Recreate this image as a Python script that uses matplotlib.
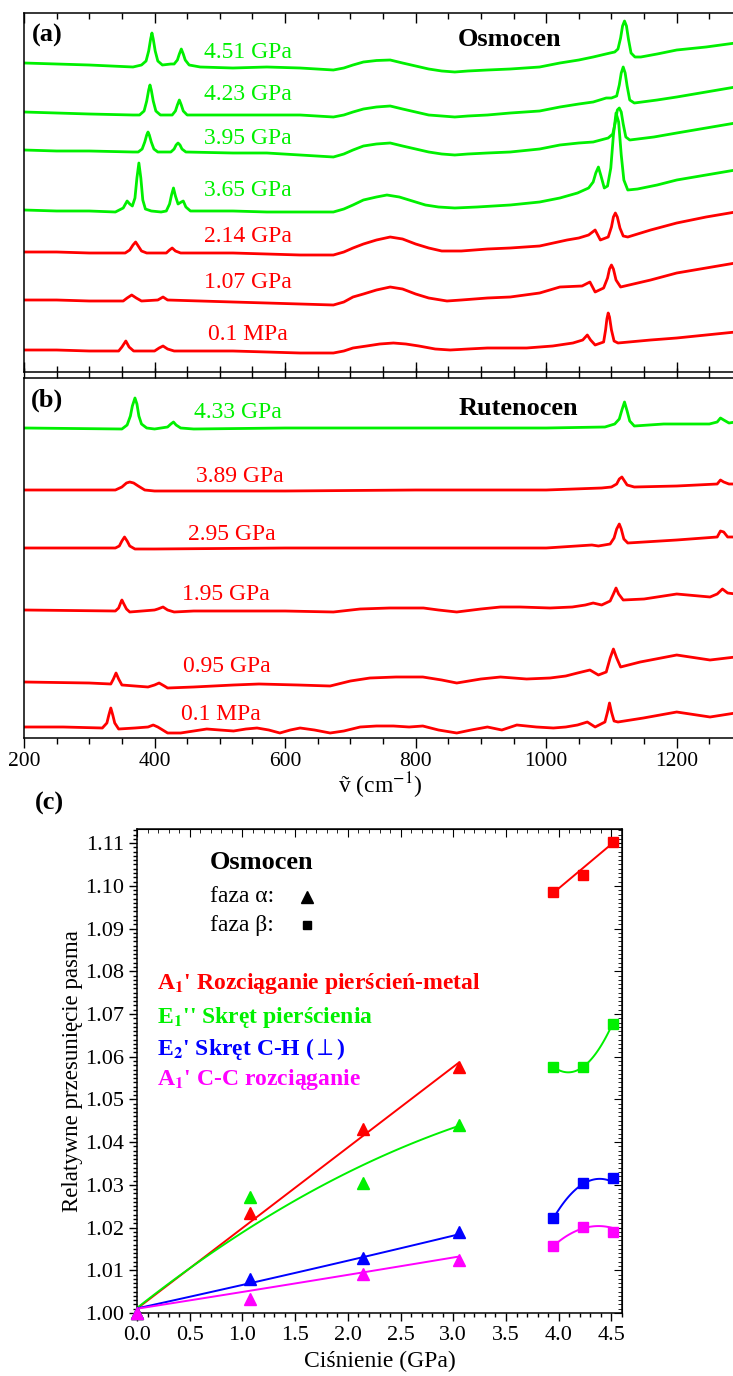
"""
Raman spectra of osmocene / ruthenocene under pressure and relative band shifts.
"""

import matplotlib.pyplot as plt
import numpy as np
from matplotlib.ticker import FormatStrFormatter, MultipleLocator

plt.rcParams['font.family'] = ['Liberation Serif', 'DejaVu Serif', 'DejaVu Sans']
plt.rcParams['mathtext.fontset'] = 'stix'

W_PX, H_PX = 733, 1376
RED, GREEN, BLUE, MAGENTA = '#ff0000', '#00f000', '#0000ff', '#ff00ff'

# ==============================================================
# Data: (a) osmocene spectra, (wavenumber, intensity) pairs
# ==============================================================

OS_LABELS = ['4.51 GPa', '4.23 GPa', '3.95 GPa', '3.65 GPa', '2.14 GPa', '1.07 GPa', '0.1 MPa']
OS_COLORS = [GREEN, GREEN, GREEN, GREEN, RED, RED, RED]
OS_OFFSETS = [309, 260, 222, 162, 120, 72, 22]

OS_451 = [(200, 0), (250, -1), (300, -2), (367, -4), (380, -2), (387, 2), (391, 12), (394, 24), (396, 30),
          (398, 24), (401, 12), (405, 2), (412, -2), (425, -1), (430, -1), (435, 3), (438, 9), (441, 14),
          (444, 9), (447, 3), (453, -2), (470, -4), (520, -5), (572, -4), (623, -5), (674, -7), (690, -5),
          (704, -2), (720, 1), (740, 2.5), (761, 3), (780, 0), (800, -3), (820, -6), (840, -8), (860, -9),
          (880, -8), (910, -7), (945, -6), (990, -4), (1021, 0), (1050, 3), (1072, 6), (1098, 10),
          (1105, 11), (1110, 14), (1114, 25), (1117, 37), (1120, 42), (1123, 37), (1126, 24), (1130, 10),
          (1136, 6), (1145, 6), (1170, 9), (1200, 13), (1245, 16), (1290, 20)]
OS_423 = [(200, 0), (250, -1), (300, -2), (367, -3), (377, -3), (384, 1), (388, 11), (391, 22), (393, 27),
          (395, 22), (398, 11), (402, 1), (409, -3), (427, -3), (432, 1), (435, 7), (438, 12), (441, 7),
          (444, 1), (450, -3), (520, -3), (572, -3), (623, -3), (674, -5), (690, -3), (704, 0), (720, 3),
          (740, 5), (761, 6), (780, 3), (800, 0), (820, -3), (840, -4), (860, -5), (880, -4), (910, -3),
          (945, -1), (990, 1), (1021, 5), (1050, 8), (1072, 10), (1092, 14), (1100, 14), (1108, 16),
          (1112, 27), (1115, 39), (1118, 45), (1121, 39), (1124, 26), (1128, 12), (1135, 9), (1170, 12),
          (1200, 15), (1245, 20), (1290, 25)]
OS_395 = [(200, 0), (250, -1), (300, -1), (367, -2), (375, -2), (381, 1), (385, 8), (388, 15), (390, 18),
          (392, 15), (395, 8), (399, 1), (405, -2), (425, -2), (430, 1), (433, 5), (436, 7), (439, 5),
          (442, 1), (448, -2), (520, -3), (572, -3), (623, -5), (674, -7), (690, -4), (704, 0), (720, 4),
          (740, 6), (761, 7), (780, 4), (800, 1), (820, -2), (840, -4), (860, -5), (880, -4), (910, -3),
          (945, -2), (990, 1), (1021, 5), (1050, 7), (1072, 8), (1095, 12), (1102, 16), (1106, 28),
          (1109, 40), (1112, 42), (1115, 38), (1118, 26), (1122, 13), (1128, 10), (1165, 13), (1200, 17),
          (1245, 22), (1290, 27)]
OS_365 = [(200, 0), (250, -1), (300, -1), (340, -2), (352, 2), (358, 9), (362, 6), (366, 4), (370, 12),
          (373, 32), (376, 47), (379, 32), (382, 10), (386, 1), (395, -1), (410, -2), (418, -1), (423, 6),
          (426, 15), (429, 22), (432, 14), (436, 6), (441, 8), (444, 9), (448, 3), (455, -1), (520, -1),
          (572, -2), (623, -2), (674, -2), (690, 1), (704, 5), (720, 10), (740, 13), (756, 15), (775, 13),
          (795, 9), (815, 5), (835, 3), (860, 2), (894, 3), (945, 5), (990, 8), (1021, 12), (1048, 17),
          (1065, 22), (1072, 28), (1076, 37), (1080, 43), (1084, 34), (1089, 22), (1094, 24), (1099, 42),
          (1103, 75), (1107, 97), (1111, 88), (1115, 55), (1119, 30), (1125, 20), (1140, 21), (1170, 25),
          (1200, 30), (1245, 35), (1290, 40)]
OS_214 = [(200, 0), (250, 0), (300, -1), (355, -1), (362, 2), (367, 7), (371, 10), (375, 6), (380, 1),
          (388, -1), (418, -1), (423, 2), (427, 4), (432, 1), (440, -1), (520, -1), (572, -2), (623, -3),
          (674, -3), (690, 0), (704, 4), (720, 8), (740, 12), (761, 15), (780, 13), (800, 8), (820, 4),
          (840, 1), (870, 1), (910, 3), (945, 4), (990, 6), (1032, 12), (1050, 14), (1065, 17), (1075, 22),
          (1083, 12), (1095, 15), (1100, 25), (1103, 35), (1106, 39), (1109, 35), (1113, 24), (1118, 16),
          (1125, 15), (1160, 22), (1200, 29), (1245, 35), (1290, 40)]
OS_107 = [(200, 0), (250, 0), (300, -1), (352, -1), (358, 2), (365, 5), (372, 2), (380, -1), (405, 0),
          (413, 3), (420, 0), (520, -2), (572, -3), (623, -4), (674, -5), (690, -2), (704, 3), (720, 6),
          (740, 10), (761, 13), (780, 11), (800, 6), (820, 2), (848, -1), (870, 0), (910, 2), (945, 3),
          (990, 7), (1021, 13), (1055, 14), (1067, 18), (1075, 8), (1088, 12), (1094, 22), (1097, 31),
          (1100, 35), (1103, 31), (1107, 20), (1114, 13), (1160, 20), (1200, 27), (1245, 32), (1290, 37)]
OS_01 = [(200, 0), (250, 0), (300, -1), (345, -1), (350, 3), (356, 9), (361, 3), (368, -1), (400, -1),
         (407, 2), (413, 4), (420, 1), (430, -1), (520, -1), (572, -2), (623, -3), (674, -3), (690, -1),
         (704, 2), (725, 4), (745, 6), (766, 7), (785, 6), (805, 4), (830, 1), (853, 0), (880, 1),
         (910, 2), (970, 2), (1010, 4), (1041, 7), (1056, 10), (1063, 15), (1068, 10), (1075, 5),
         (1088, 8), (1091, 20), (1093, 31), (1095, 37), (1097, 33), (1100, 20), (1104, 9), (1110, 7),
         (1160, 10), (1200, 12), (1245, 15), (1290, 18)]
OS_SPECTRA = [OS_451, OS_423, OS_395, OS_365, OS_214, OS_107, OS_01]

# ==============================================================
# Data: (b) ruthenocene spectra
# ==============================================================

RU_LABELS = ['4.33 GPa', '3.89 GPa', '2.95 GPa', '1.95 GPa', '0.95 GPa', '0.1 MPa']
RU_COLORS = [GREEN, RED, RED, RED, RED, RED]
RU_OFFSETS = [310, 248, 190, 128, 56, 11]

RU_433 = [(200, 0), (350, -1), (358, 3), (363, 12), (366, 22), (370, 30), (373, 24), (376, 12), (380, 4),
          (388, 0), (400, -1), (420, 1), (425, 4), (429, 6), (433, 3), (440, 0), (460, -1), (600, 0),
          (800, 0), (1000, 0), (1090, 1), (1105, 4), (1112, 9), (1116, 18), (1120, 26), (1124, 17),
          (1128, 7), (1135, 2), (1180, 4), (1250, 4), (1262, 6), (1267, 10), (1272, 8), (1280, 5), (1290, 6)]
RU_389 = [(200, 0), (340, 0), (350, 3), (357, 7), (362, 8), (368, 7), (375, 4), (385, 0), (400, -1),
          (600, -1), (800, 0), (1000, 0), (1085, 2), (1100, 3), (1108, 6), (1112, 11), (1116, 13),
          (1120, 9), (1124, 5), (1135, 3), (1200, 4), (1262, 6), (1267, 10), (1272, 8), (1280, 6), (1290, 6)]
RU_295 = [(200, 0), (340, 0), (346, 2), (350, 7), (354, 11), (358, 7), (362, 2), (370, -1), (400, -1),
          (600, 0), (800, 0), (1000, 0), (1070, 3), (1080, 2), (1098, 4), (1104, 10), (1108, 19),
          (1112, 24), (1115, 19), (1119, 9), (1125, 5), (1200, 8), (1262, 11), (1267, 17), (1272, 16),
          (1278, 11), (1290, 11)]
RU_195 = [(200, 0), (340, -1), (345, 2), (348, 7), (350, 10), (353, 6), (357, 1), (362, -2), (400, 0),
          (405, 1), (413, 3), (420, 0), (430, -2), (460, -1), (521, -1), (600, -1), (674, -2), (715, 1),
          (760, 2), (812, 2), (835, 0), (863, -2), (900, 1), (930, 3), (960, 3), (1006, 2), (1040, 3),
          (1060, 5), (1072, 7), (1085, 5), (1098, 9), (1103, 16), (1107, 22), (1111, 16), (1118, 10),
          (1150, 11), (1200, 16), (1251, 13), (1262, 16), (1270, 21), (1278, 17), (1290, 16)]
RU_095 = [(200, 0), (300, -1), (333, -2), (337, 3), (341, 9), (345, 3), (350, -3), (390, -5), (400, -3),
          (407, -1), (415, -4), (420, -6), (460, -5), (521, -3), (560, -2), (620, -3), (669, -4), (700, 1),
          (730, 4), (770, 5), (811, 5), (840, 2), (863, -1), (900, 3), (930, 5), (970, 3), (1006, 4),
          (1030, 6), (1048, 9), (1067, 12), (1080, 7), (1092, 10), (1098, 24), (1103, 33), (1108, 24),
          (1114, 15), (1144, 20), (1200, 27), (1251, 22), (1290, 25)]
RU_01 = [(200, 0), (260, 0), (320, -1), (327, 4), (330, 12), (333, 19), (336, 12), (339, 4), (345, -2),
         (370, -1), (390, 0), (398, 2), (405, 0), (420, -6), (440, -6), (460, -4), (480, -2), (500, -3),
         (521, -4), (540, -2), (557, -1), (575, -3), (592, -6), (608, -3), (623, -1), (645, -3), (669, -6),
         (690, -4), (715, 0), (740, 1), (766, 1), (790, 0), (811, 1), (835, -3), (863, -6), (885, -3),
         (910, 0), (932, -3), (955, 2), (985, 0), (1011, -1), (1030, 0), (1048, 2), (1063, 5), (1075, 0),
         (1090, 5), (1094, 15), (1097, 24), (1100, 15), (1104, 6), (1110, 5), (1149, 9), (1200, 15),
         (1251, 10), (1290, 14)]
RU_SPECTRA = [RU_433, RU_389, RU_295, RU_195, RU_095, RU_01]

# ==============================================================
# Data: (c) relative band shifts of osmocene
# ==============================================================

P_ALPHA = [0.0, 1.07, 2.14, 3.05]
P_BETA = [3.95, 4.23, 4.51]

BAND_NAMES = [r"A$_\mathbf{1}$' Rozciąganie pierścień-metal", r"E$_\mathbf{1}$'' Skręt pierścienia",
              r"E$_\mathbf{2}$' Skręt C-H ($\perp$)", r"A$_\mathbf{1}$' C-C rozciąganie"]
BAND_COLORS = [RED, GREEN, BLUE, MAGENTA]

SHIFT_ALPHA = [[1.000, 1.0234, 1.0431, 1.0577],
               [1.000, 1.0272, 1.0304, 1.0440],
               [1.000, 1.0080, 1.0129, 1.0190],
               [1.000, 1.0033, 1.0091, 1.0124]]
SHIFT_BETA = [[1.0986, 1.1026, 1.1103],
              [1.0576, 1.0576, 1.0677],
              [1.0222, 1.0304, 1.0316],
              [1.0157, 1.0202, 1.0190]]

# fitted curves as read at the measured pressures
FIT_ALPHA = [[1.001, 1.0212, 1.0415, 1.0585],
             [1.001, 1.0205, 1.0340, 1.0440],
             [1.001, 1.0072, 1.0128, 1.0185],
             [1.001, 1.0052, 1.0095, 1.0132]]
FIT_BETA = [[1.0986, 1.1037, 1.1102],
            [1.0576, 1.0576, 1.0677],
            [1.0222, 1.0302, 1.0307],
            [1.0157, 1.0198, 1.0199]]
FIT_DEG_ALPHA = [1, 2, 2, 2]
FIT_DEG_BETA = [1, 2, 2, 2]


def fig_xy(px, py):
    """Pixel position in the 733x1376 canvas -> figure fraction."""
    return px / W_PX, 1 - py / H_PX


def axes_rect(left, top, right, bottom):
    x0, y0 = fig_xy(left, bottom)
    x1, y1 = fig_xy(right, top)
    return [x0, y0, x1 - x0, y1 - y0]


def style_spectra_axes(ax, ymax, bottom_labels):
    ax.set_xlim(200, 1300)
    ax.set_ylim(0, ymax)
    ax.set_yticks([])
    ax.xaxis.set_major_locator(MultipleLocator(200))
    ax.xaxis.set_minor_locator(MultipleLocator(50))
    ax.tick_params(axis='x', which='both', top=True, direction='in', labelsize=15.5, width=1.0)
    ax.tick_params(axis='x', which='major', length=7)
    ax.tick_params(axis='x', which='minor', length=4)
    if bottom_labels:
        ax.tick_params(axis='x', which='both', bottom=True, direction='out', pad=3)
    else:
        ax.tick_params(axis='x', labelbottom=False)
    for sp in ax.spines.values():
        sp.set_linewidth(1.1)


def plot_spectra(ax, spectra, offsets, colors):
    for spec, off, col in zip(spectra, offsets, colors):
        wn = np.array([p[0] for p in spec], dtype=float)
        inten = np.array([p[1] for p in spec], dtype=float)
        ax.plot(wn, inten + off, color=col, lw=2.0, solid_joinstyle='round')


fig = plt.figure(figsize=(W_PX / 100, H_PX / 100), dpi=100)

# ---------------- (a) Osmocen ----------------
ax_a = fig.add_axes(axes_rect(24, 13, 742, 372))
style_spectra_axes(ax_a, 359, bottom_labels=False)
plot_spectra(ax_a, OS_SPECTRA, OS_OFFSETS, OS_COLORS)
os_label_y = [320, 277, 234, 182, 135, 89, 37]
for lab, y, col in zip(OS_LABELS, os_label_y, OS_COLORS):
    ax_a.text(543, y, lab, color=col, fontsize=17, ha='center', va='center')

# ---------------- (b) Rutenocen ----------------
ax_b = fig.add_axes(axes_rect(24, 378, 742, 738))
style_spectra_axes(ax_b, 360, bottom_labels=True)
plot_spectra(ax_b, RU_SPECTRA, RU_OFFSETS, RU_COLORS)
ru_label_xy = [(528, 325), (531, 261), (519, 203), (510, 143), (510, 71), (502, 23)]
for lab, (x, y), col in zip(RU_LABELS, ru_label_xy, RU_COLORS):
    ax_b.text(x, y, lab, color=col, fontsize=17, ha='center', va='center')

fig.text(*fig_xy(380, 786), 'ṽ (cm$^{-1}$)', fontsize=17, ha='center', va='center')
fig.text(*fig_xy(47, 35), '(a)', fontsize=19, fontweight='bold', ha='center', va='center')
fig.text(*fig_xy(47, 400), '(b)', fontsize=19, fontweight='bold', ha='center', va='center')
fig.text(*fig_xy(510, 39), 'Osmocen', fontsize=19, fontweight='bold', ha='center', va='center')
fig.text(*fig_xy(518, 408), 'Rutenocen', fontsize=19, fontweight='bold', ha='center', va='center')

# ---------------- (c) band shifts ----------------
ax_c = fig.add_axes(axes_rect(137, 829, 622, 1313))
ax_c.set_xlim(0, 4.6)
ax_c.set_ylim(1.0, 1.1133)
ax_c.xaxis.set_major_locator(MultipleLocator(0.5))
ax_c.xaxis.set_minor_locator(MultipleLocator(0.1))
ax_c.yaxis.set_major_locator(MultipleLocator(0.01))
ax_c.yaxis.set_minor_locator(MultipleLocator(0.001))
ax_c.xaxis.set_major_formatter(FormatStrFormatter('%.1f'))
ax_c.yaxis.set_major_formatter(FormatStrFormatter('%.2f'))
ax_c.tick_params(which='both', labelsize=16, width=1.0)
ax_c.tick_params(which='major', length=6)
ax_c.tick_params(which='minor', length=3)
ax_c.tick_params(axis='x', which='both', direction='out', top=False)
ax_c.tick_params(axis='y', which='both', direction='out', right=False)
for sp in ax_c.spines.values():
    sp.set_linewidth(1.1)

sec_x = ax_c.secondary_xaxis('top')
sec_x.xaxis.set_major_locator(MultipleLocator(0.5))
sec_x.xaxis.set_minor_locator(MultipleLocator(0.1))
sec_x.tick_params(which='both', direction='in', labeltop=False)
sec_x.tick_params(which='major', length=6)
sec_x.tick_params(which='minor', length=3)
sec_y = ax_c.secondary_yaxis('right')
sec_y.yaxis.set_major_locator(MultipleLocator(0.01))
sec_y.yaxis.set_minor_locator(MultipleLocator(0.001))
sec_y.tick_params(which='both', direction='in', labelright=False)
sec_y.tick_params(which='major', length=6)
sec_y.tick_params(which='minor', length=3)

for i, col in enumerate(BAND_COLORS):
    grid_a = np.linspace(P_ALPHA[0], P_ALPHA[-1], 100)
    coef_a = np.polyfit(P_ALPHA, FIT_ALPHA[i], FIT_DEG_ALPHA[i])
    ax_c.plot(grid_a, np.polyval(coef_a, grid_a), color=col, lw=1.4)
    grid_b = np.linspace(P_BETA[0], P_BETA[-1], 100)
    coef_b = np.polyfit(P_BETA, FIT_BETA[i], FIT_DEG_BETA[i])
    ax_c.plot(grid_b, np.polyval(coef_b, grid_b), color=col, lw=1.4)
for i, col in enumerate(BAND_COLORS):
    ax_c.plot(P_ALPHA, SHIFT_ALPHA[i], '^', color=col, ms=9, ls='none', clip_on=False, zorder=5)
    ax_c.plot(P_BETA, SHIFT_BETA[i], 's', color=col, ms=7, ls='none', clip_on=False, zorder=5)

ax_c.set_xlabel('Ciśnienie (GPa)', fontsize=17, labelpad=4)
ax_c.set_ylabel('Relatywne przesunięcie pasma', fontsize=16.5, labelpad=1)

fig.text(*fig_xy(49, 803), '(c)', fontsize=19, fontweight='bold', ha='center', va='center')
fig.text(*fig_xy(210, 863), 'Osmocen', fontsize=19, fontweight='bold', ha='left', va='center')
fig.text(*fig_xy(210, 897), 'faza α:', fontsize=17, ha='left', va='center')
fig.text(*fig_xy(210, 925), 'faza β:', fontsize=17, ha='left', va='center')
ax_c.plot(*fig_xy(307, 897), '^', color='black', ms=9, transform=fig.transFigure, clip_on=False)
ax_c.plot(*fig_xy(307, 925), 's', color='black', ms=6, transform=fig.transFigure, clip_on=False)
for name, col, py in zip(BAND_NAMES, BAND_COLORS, [984, 1017, 1049, 1080]):
    fig.text(*fig_xy(157, py), name, color=col, fontsize=17, fontweight='bold', ha='left', va='center')

fig.savefig('out.png', dpi=100)
